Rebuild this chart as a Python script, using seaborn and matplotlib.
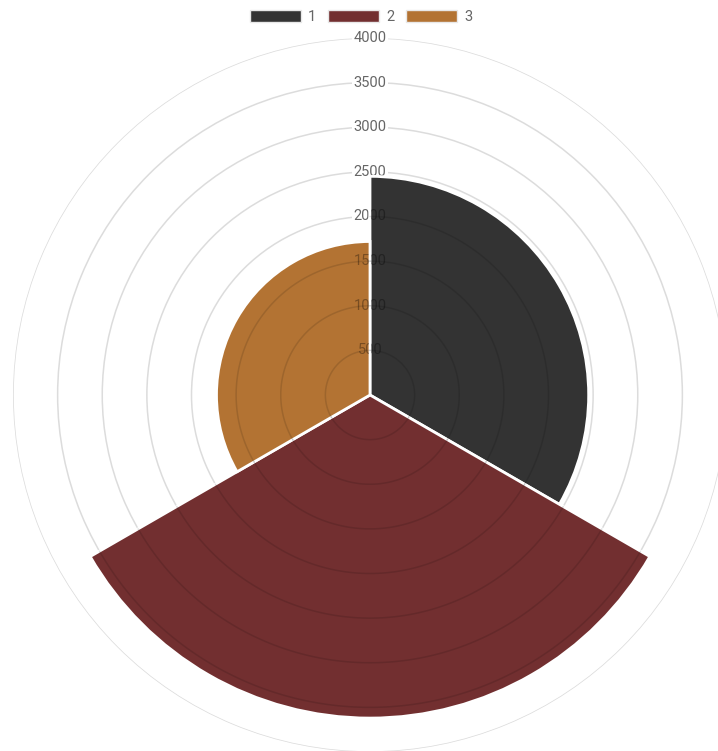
import numpy as np
import matplotlib
matplotlib.use("Agg")
import matplotlib.pyplot as plt
from matplotlib.patches import Patch
from matplotlib.transforms import Bbox
import seaborn as sns

# Polar-area data
labels = ["1", "2", "3"]
values = [2450, 3620, 1720]
colors = ["#333333", "#722f30", "#b37333"]
ticks = [500, 1000, 1500, 2000, 2500, 3000, 3500, 4000]
tick_labels = ["500", "1000", "1500", "2000", "2500", "3000", "3500", "4000"]
r_max = 4000

sns.set_theme(style="white")
plt.rcParams["font.family"] = ["Roboto", "DejaVu Sans"]
palette = sns.color_palette(colors)

W, H = 718, 751
fig = plt.figure(figsize=(W / 100, H / 100), dpi=100)

cx, cy, rad = 370, 395, 357
ax = fig.add_axes([(cx - rad) / W, (H - cy - rad) / H, 2 * rad / W, 2 * rad / H],
                  projection="polar")
ax.set_theta_zero_location("N")
ax.set_theta_direction(-1)
ax.set_ylim(0, r_max)
ax.set_axisbelow(True)

n = len(values)
width = 2 * np.pi / n
theta = np.arange(n) * width
bars = ax.bar(theta, values, width=width, align="edge", color=palette,
              edgecolor="white", linewidth=2, zorder=3)

# Concentric grid and radial tick labels (behind the segments)
ax.set_yticks(ticks)
ax.set_yticklabels([])
ax.set_xticks([])
ax.grid(True, axis="y", color="#dcdcdc", linewidth=1.1)
ax.grid(False, axis="x")
ax.spines["polar"].set_visible(False)
ax.set_facecolor("none")
for r, t in zip(ticks, tick_labels):
    ax.text(0, r, t, ha="center", va="center", fontsize=10.5, color="#666666",
            zorder=1.5, bbox=dict(boxstyle="square,pad=0.12", fc="white", ec="none"))

# Translucent grid arcs showing through each segment
for t0, v in zip(theta, values):
    arc = np.linspace(t0, t0 + width, 121)
    for r in ticks:
        if r < v:
            ax.plot(arc, np.full_like(arc, r), color="black", alpha=0.12,
                    linewidth=1.1, zorder=4)

# Tick labels showing through the segments on either side of the 0° line
origin = ax.transData.transform((0, 0))
right_top = ax.transData.transform((0, values[0]))[1]
left_top = ax.transData.transform((0, values[-1]))[1]
clips = [Bbox.from_extents(origin[0] + 1, origin[1], W, right_top),
         Bbox.from_extents(0, origin[1], origin[0] - 1, left_top)]
for clip in clips:
    for r, t in zip(ticks, tick_labels):
        tx = ax.text(0, r, t, ha="center", va="center", fontsize=10.5,
                     color="black", alpha=0.33, zorder=5)
        tx.set_clip_box(clip)
        tx.set_clip_on(True)

handles = [Patch(facecolor=c, edgecolor="#e8e8e8", linewidth=1) for c in colors]
fig.legend(handles, labels, loc="center", bbox_to_anchor=(361 / W, 1 - 17 / H),
           ncol=3, frameon=False, fontsize=10.5, handlelength=3.5, handleheight=0.95,
           handletextpad=0.5, columnspacing=0.8, labelcolor="#666666")

fig.savefig("out.png", dpi=100)
